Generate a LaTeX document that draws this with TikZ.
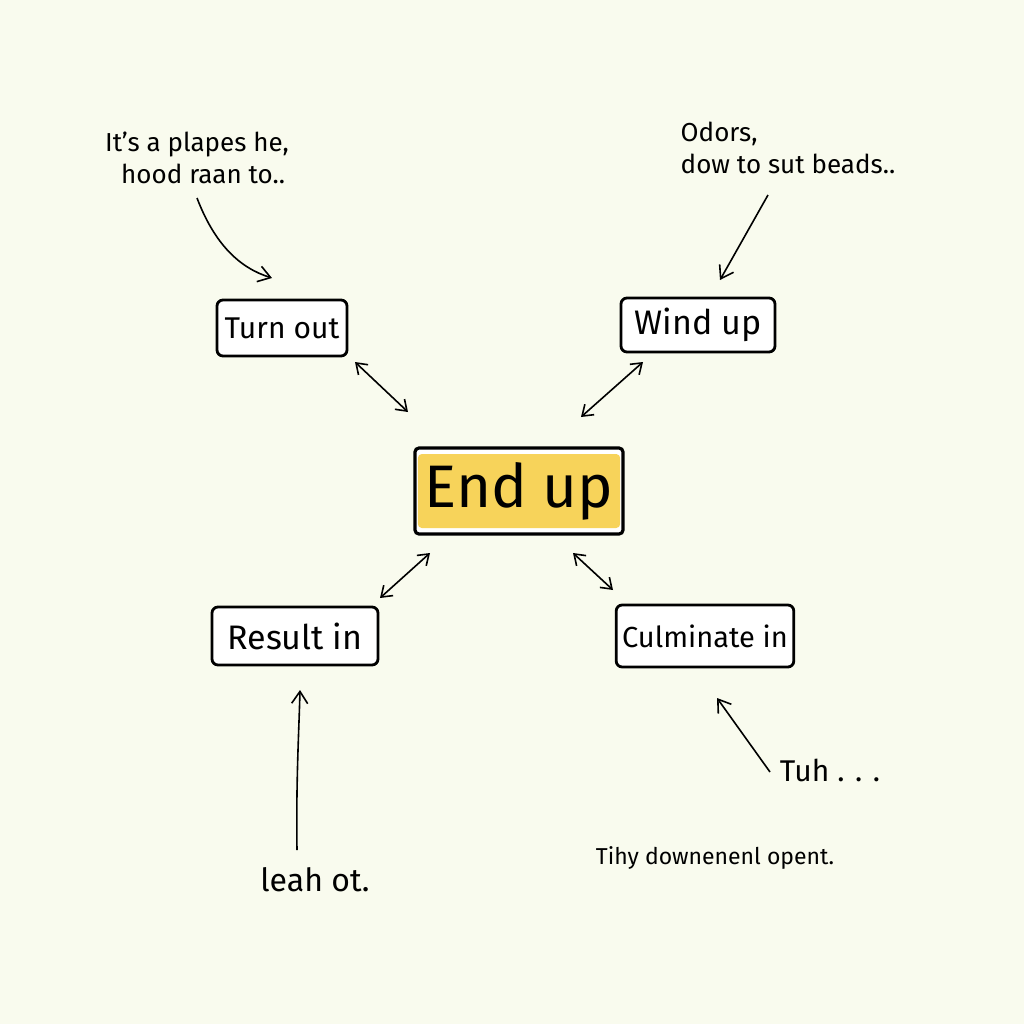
\documentclass[tikz,border=0pt]{standalone}
\usepackage{fontspec}
\setmainfont{Fira Sans}
\usetikzlibrary{arrows.meta}
\definecolor{bg}{HTML}{F9FBEE}
\definecolor{hl}{HTML}{F7D35A}
\begin{document}
\begin{tikzpicture}[x=0.5pt,y=-0.5pt,
  box/.style={draw=black,line width=1.4pt,rounded corners=3pt,fill=white,inner xsep=3pt,inner ysep=5pt,font=\fontsize{17}{20}\selectfont},
  note/.style={font=\fontsize{13}{16}\selectfont,align=left},
  link/.style={line width=0.8pt,{Straight Barb[length=5pt,width=7pt]}-{Straight Barb[length=5pt,width=7pt]}},
  pt/.style={line width=0.8pt,-{Straight Barb[length=6pt,width=8pt]}}]
\useasboundingbox[fill=bg] (0,0) rectangle (1024,1024);
% central
\node[draw=black,line width=1.6pt,rounded corners=2pt,fill=white,minimum width=104pt,minimum height=43pt] (endbox) at (519,491) {};
\node[fill=hl,rounded corners=2pt,minimum width=98pt,minimum height=37pt,font=\fontsize{30}{34}\selectfont] (end) at (519,491) {End up};
% satellites
\node[box,minimum width=65pt,minimum height=28pt,font=\fontsize{15}{18}\selectfont] (turn) at (282,328) {Turn out};
\node[box,minimum width=77pt,minimum height=27pt] (wind) at (698,325) {Wind up};
\node[box,minimum width=83pt,minimum height=29pt] (res) at (295,636) {Result in};
\node[box,minimum width=85pt,minimum height=31pt,font=\fontsize{14.5}{18}\selectfont] (cul) at (705,636) {Culminate in};
% notes
\node[note] (n1) at (197,158) {It's a plapes he,\\\hspace{8pt}hood raan to..};
\node[note] (n2) at (788,148) {Odors,\\dow to sut beads..};
\node[note,font=\fontsize{16}{18}\selectfont] (n3) at (315,880) {leah ot.};
\node[note,font=\fontsize{15}{18}\selectfont] (n4) at (830,770) {Tuh . . .};
\node[note,font=\fontsize{11.5}{14}\selectfont] (n5) at (715,858) {Tihy downenenl opent.};
% connector endpoints
\coordinate (a1) at (355,362); \coordinate (b1) at (408,412);
\coordinate (a2) at (643,362); \coordinate (b2) at (581,417);
\coordinate (a3) at (380,598); \coordinate (b3) at (430,553);
\coordinate (a4) at (613,590); \coordinate (b4) at (573,553);
\draw[link] (a1) -- (b1);
\draw[link] (a2) -- (b2);
\draw[link] (a3) -- (b3);
\draw[link] (a4) -- (b4);
% pointers
\coordinate (p1) at (197,198); \coordinate (q1) at (272,278);
\draw[pt] (p1) .. controls (215,245) and (240,268) .. (q1);
\coordinate (p2) at (768,195); \coordinate (q2) at (720,280);
\draw[pt] (p2) -- (q2);
\coordinate (p3) at (297,850); \coordinate (q3) at (300,690);
\draw[pt] (p3) .. controls (296,780) and (299,730) .. (q3);
\coordinate (p4) at (770,772); \coordinate (q4) at (717,698);
\draw[pt] (p4) -- (q4);
\end{tikzpicture}
\end{document}
